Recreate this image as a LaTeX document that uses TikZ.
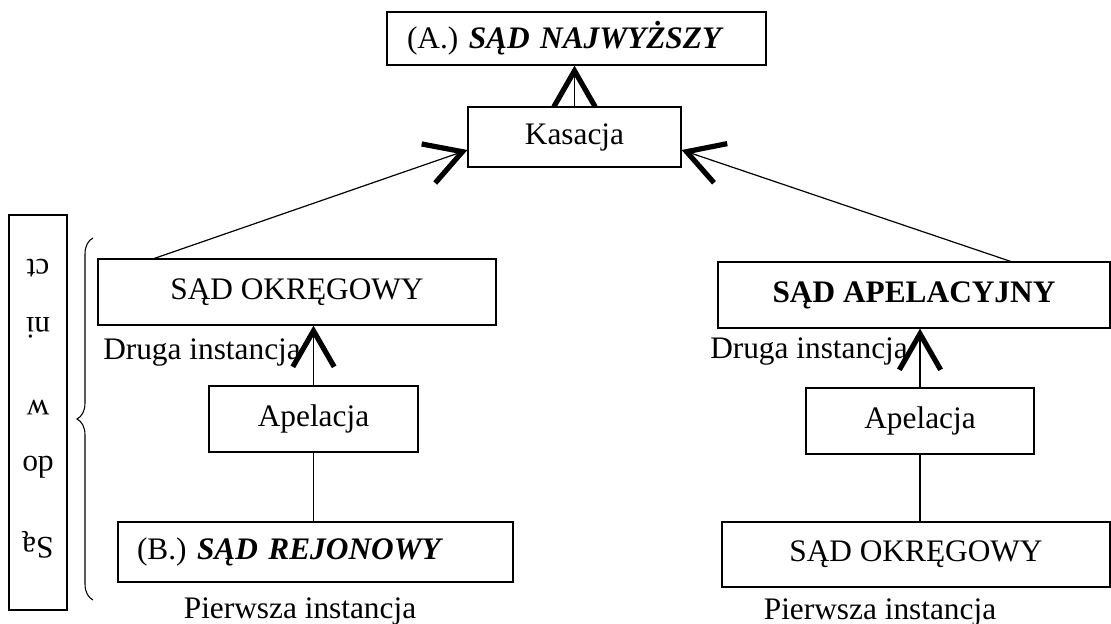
\documentclass[tikz,border=0pt]{standalone}
\usepackage{fontspec}
\setmainfont{Liberation Serif}
\usepackage{tikz}
\usetikzlibrary{arrows.meta,calc,decorations.pathreplacing}

\begin{document}
\begin{tikzpicture}[x=0.75pt,y=0.75pt,yscale=-1,xscale=1,
  font=\fontsize{23.5}{28}\selectfont,
  box/.style={draw,line width=0.9pt,inner sep=0pt,align=center},
  arr/.style={line width=0.9pt,-{Straight Barb[length=27pt,width=31pt,line width=3.9pt]}},
  link/.style={line width=0.9pt}]
\useasboundingbox (0,0) rectangle (1111,624);

% Boxes
\node[box,minimum width=284.25pt,minimum height=39.75pt,text width=254.25pt,align=left] (najw) at (576.5,38.5) {(A.) \textbf{\textit{SĄD NAJWYŻSZY}}};
\node[box,minimum width=159.75pt,minimum height=45pt] (kas) at (574.5,137) {Kasacja};
\node[box,minimum width=298.5pt,minimum height=49.5pt] (okr1) at (297,292) {SĄD OKRĘGOWY};
\node[box,minimum width=156.75pt,minimum height=49.5pt] (apl1) at (313.5,419) {Apelacja};
\node[box,minimum width=296.25pt,minimum height=45pt,text width=267.75pt,align=left] (rej) at (315.5,552) {(B.) \textbf{\textit{SĄD REJONOWY}}};
\node[box,minimum width=294pt,minimum height=49.5pt] (apel2) at (914,295) {\textbf{SĄD APELACYJNY}};
\node[box,minimum width=171pt,minimum height=49.5pt] (apl2) at (920,421) {Apelacja};
\node[box,minimum width=291pt,minimum height=48.75pt] (okr2) at (916,554.5) {SĄD OKRĘGOWY};
\node[box,minimum width=43.5pt,minimum height=296.25pt] (sys) at (38,412.5) {};

% Text in the left box
\node[rotate=180] (s5) at (38,268) {ct};
\node[rotate=180] (s4) at (38,328) {ni};
\node[rotate=180] (s3) at (38,408) {w};
\node[rotate=180] (s2) at (38,467) {do};
\node[rotate=180] (s1) at (38,545) {Są};

% Labels
\node[anchor=west,inner sep=0pt] (dru1) at (103,353) {Druga instancja};
\node[anchor=west,inner sep=0pt] (dru2) at (710,352) {Druga instancja};
\node[inner sep=0pt] (pie1) at (300,611) {Pierwsza instancja};
\node[inner sep=0pt] (pie2) at (880,612) {Pierwsza instancja};

% Brace
\coordinate (br1) at (93,600);
\coordinate (br2) at (93,238);
\draw[line width=0.8pt,decorate,decoration={brace,amplitude=12pt}] (br1) -- (br2);

% Connectors
\draw[arr] (kas.north) -- (kas.north |- najw.south);
\draw[arr] ([xshift=42.75pt]okr1.north west) -- ($(kas.west)+(0,13)$);
\draw[arr] ([xshift=-75pt]apel2.north east) -- ($(kas.east)+(0,13)$);
\draw[arr] (apl1.north) -- (apl1.north |- okr1.south);
\draw[link] (apl1.south) -- (apl1.south |- rej.north);
\draw[arr] (apl2.north) -- (apl2.north |- apel2.south);
\draw[link] (apl2.south) -- (apl2.south |- okr2.north);

\end{tikzpicture}
\end{document}
